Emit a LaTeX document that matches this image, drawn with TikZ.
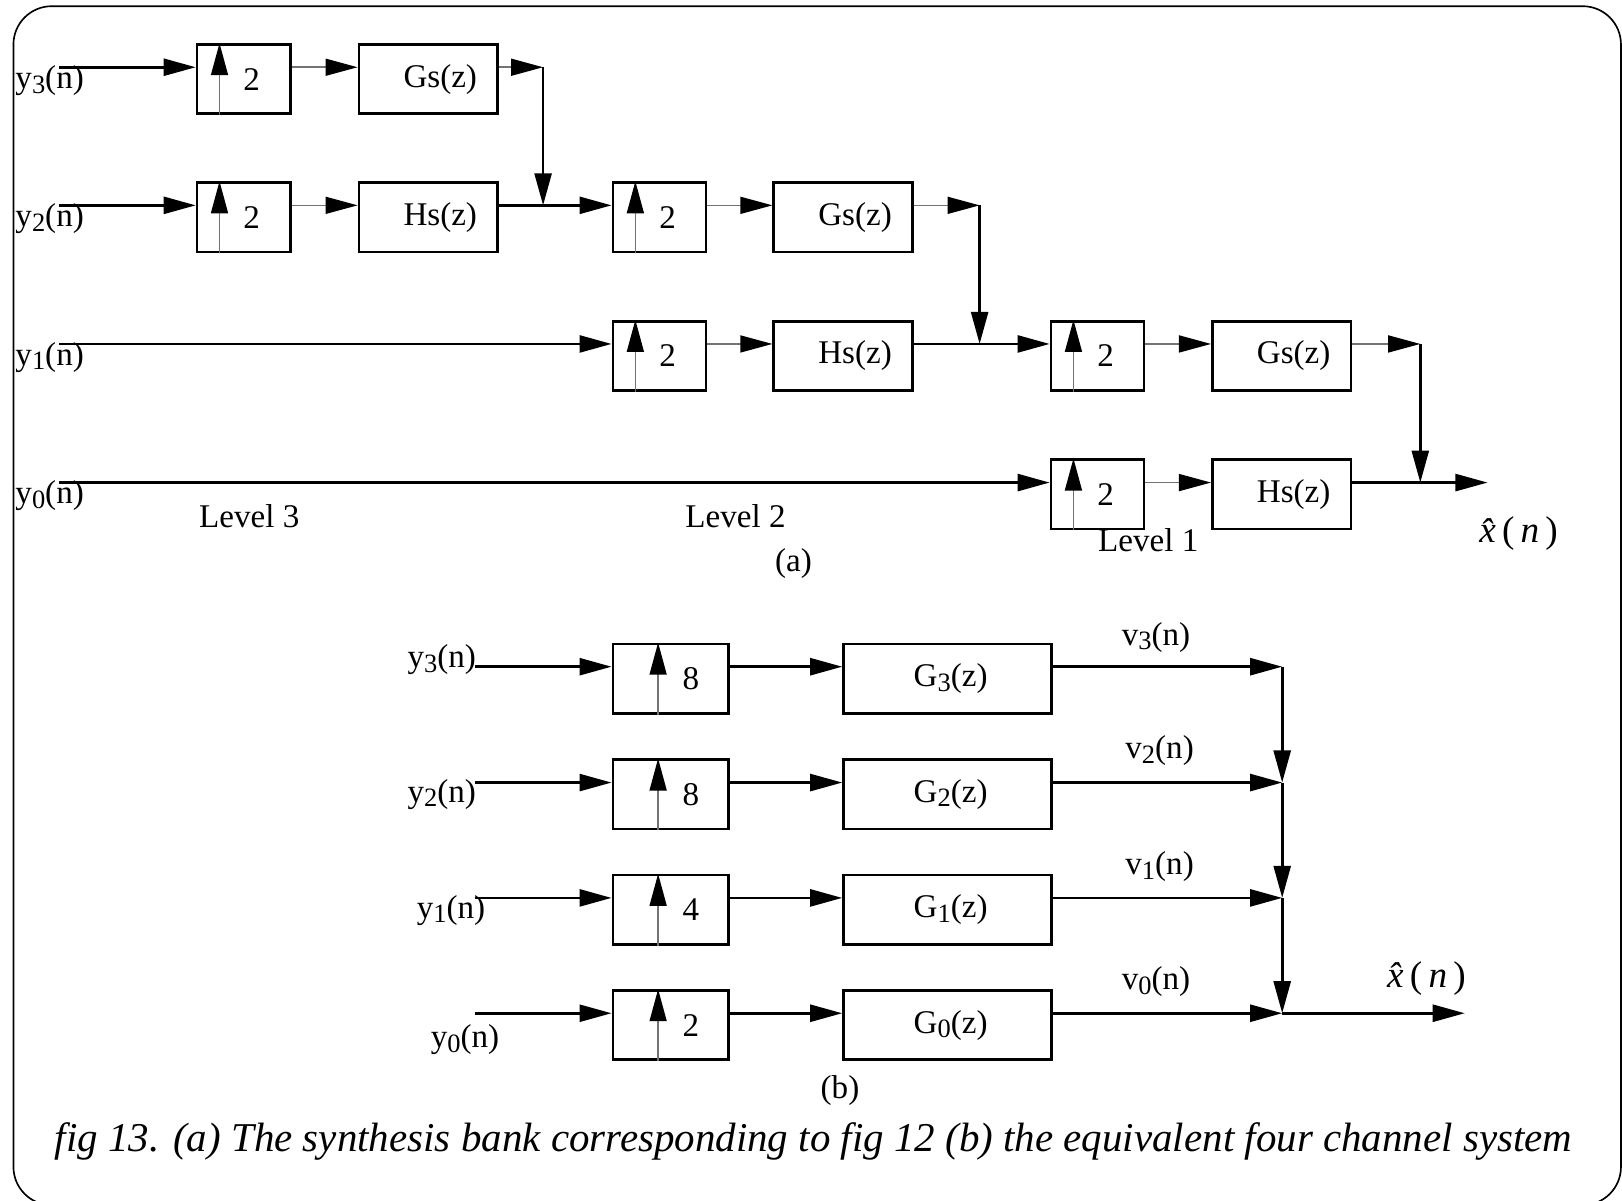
\documentclass[tikz,border=0pt]{standalone}
\usepackage{fontspec}
\setmainfont{Liberation Serif}
\usetikzlibrary{arrows.meta}
\newcommand{\lo}[1]{\raisebox{-.3ex}{\scalebox{.8}{#1}}}
\newcommand{\xhat}{{\itshape x̂}\,(\,{\itshape n}\,)}
\tikzset{
  box/.style={draw,line width=1.3pt,inner sep=0pt,minimum height=33.5pt},
  upa/.style={box,minimum width=45pt,execute at begin node={\hspace*{7.8pt}}},
  fla/.style={box,minimum width=67pt,execute at begin node={\hspace*{11.6pt}}},
  upb/.style={box,minimum width=56pt,execute at begin node={\hspace*{19.5pt}}},
  flb/.style={box,minimum width=100.5pt,execute at begin node={\hspace*{3pt}}},
  sig/.style={-{Triangle[length=15.5pt,width=8.2pt]},line width=1.3pt},
  gsig/.style={-{Triangle[length=15.5pt,width=8.2pt,black]},draw=black!55,line width=.8pt},
  lbl/.style={inner sep=0pt},
}

\begin{document}
\begin{tikzpicture}[x=0.5pt,y=-0.5pt,font=\fontsize{16}{19}\selectfont]
  \useasboundingbox (0,0) rectangle (1568,1161);
  \draw[line width=.8pt,rounded corners=18.5pt] (13,6) rectangle (1567,1165);
  % (a) level 3
  \node[upa] (u3a) at (235.5, 76.5) {2};
  \node[fla] (f3a) at (414, 76.5) {Gs(z)};
  \node[upa] (u3b) at (235.5,210) {2};
  \node[fla] (f3b) at (414,210) {Hs(z)};
  % (a) level 2
  \node[upa] (u2a) at (637.5,210) {2};
  \node[fla] (f2a) at (815,210) {Gs(z)};
  \node[upa] (u2b) at (637.5,344) {2};
  \node[fla] (f2b) at (815,344) {Hs(z)};
  % (a) level 1
  \node[upa] (u1a) at (1061,344) {2};
  \node[fla] (f1a) at (1239,344) {Gs(z)};
  \node[upa] (u1b) at (1061,478) {2};
  \node[fla] (f1b) at (1239,478) {Hs(z)};
  % (a) inputs and labels
  \node[lbl] (ya3) at (48,78) {y\lo{3}(n)};
  \node[lbl] (ya2) at (48,211.5) {y\lo{2}(n)};
  \node[lbl] (ya1) at (48,345.5) {y\lo{1}(n)};
  \node[lbl] (ya0) at (48,479.5) {y\lo{0}(n)};
  \coordinate (ia3) at (57,65);
  \coordinate (ia2) at (57,198.5);
  \coordinate (ia1) at (57,332.5);
  \coordinate (ia0) at (57,466.5);
  \coordinate (c3) at (525,65);
  \coordinate (j2) at (525,198.5);
  \coordinate (c2) at (947,198.5);
  \coordinate (j1) at (947,332.5);
  \coordinate (c1) at (1373,332.5);
  \coordinate (j0) at (1373,466.5);
  \coordinate (xa) at (1438,466.5);
  \node[lbl] (lev3) at (241,499) {Level 3};
  \node[lbl] (lev2) at (711,499) {Level 2};
  \node[lbl] (lev1) at (1110,522) {Level 1};
  \node[lbl] (capa) at (767,545) {(a)};
  \node[lbl,font=\fontsize{18}{20}\selectfont] (outa) at (1468,516) {\xhat};
  \foreach \s/\t in {ia3/u3a,ia2/u3b,ia1/u2b,ia0/u1b}
    {\draw[sig] (\s) -- ([yshift=5.75pt]\t.west);}
  \foreach \s/\t in {u3a/f3a,u3b/f3b,u2a/f2a,u2b/f2b,u1a/f1a,u1b/f1b}
    {\draw[gsig] ([yshift=5.75pt]\s.east) -- ([yshift=5.75pt]\t.west);}
  \foreach \s/\t in {f3a/c3,f2a/c2,f1a/c1}
    {\draw[gsig] ([yshift=5.75pt]\s.east) -- (\t);}
  \foreach \s/\t in {c3/j2,c2/j1,c1/j0}
    {\draw[sig] (\s) -- (\t);}
  \draw[sig] ([yshift=5.75pt]f3b.east) -- ([yshift=5.75pt]u2a.west);
  \draw[sig] ([yshift=5.75pt]f2b.east) -- ([yshift=5.75pt]u1a.west);
  \draw[sig] ([yshift=5.75pt]f1b.east) -- (xa);
  \foreach \u in {u3a,u3b,u2a,u2b,u1a,u1b}
    {\draw[gsig] ([xshift=11.5pt]\u.south west) -- ([xshift=11.5pt]\u.north west);}
  % (b) four channel system
  \node[upb] (p3) at (648.5,656) {8};
  \node[flb] (g3) at (916,656) {G\lo{3}(z)};
  \node[upb] (p2) at (648.5,768) {8};
  \node[flb] (g2) at (916,768) {G\lo{2}(z)};
  \node[upb] (p1) at (648.5,879.5) {4};
  \node[flb] (g1) at (916,879.5) {G\lo{1}(z)};
  \node[upb] (p0) at (648.5,991) {2};
  \node[flb] (g0) at (916,991) {G\lo{0}(z)};
  \node[lbl] (yb3) at (427,638) {y\lo{3}(n)};
  \node[lbl] (yb2) at (427,768) {y\lo{2}(n)};
  \node[lbl] (yb1) at (436,880) {y\lo{1}(n)};
  \node[lbl] (yb0) at (449.5,1005) {y\lo{0}(n)};
  \coordinate (ib3) at (459,644.5);
  \coordinate (ib2) at (459,756.5);
  \coordinate (ib1) at (459,868);
  \coordinate (ib0) at (459,979.5);
  \coordinate (s3) at (1239.5,644.5);
  \coordinate (s2) at (1239.5,756.5);
  \coordinate (s1) at (1239.5,868);
  \coordinate (s0) at (1239.5,979.5);
  \coordinate (xb) at (1416,979.5);
  \node[lbl] (v3) at (1117.5,616) {v\lo{3}(n)};
  \node[lbl] (v2) at (1121,726) {v\lo{2}(n)};
  \node[lbl] (v1) at (1121,838) {v\lo{1}(n)};
  \node[lbl] (v0) at (1117.5,949) {v\lo{0}(n)};
  \node[lbl,font=\fontsize{18}{20}\selectfont] (outb) at (1379,946) {\xhat};
  \node[lbl] (capb) at (812,1054) {(b)};
  \foreach \k in {3,2,1,0}{
    \draw[sig] (ib\k) -- ([yshift=5.75pt]p\k.west);
    \draw[sig] ([yshift=5.75pt]p\k.east) -- ([yshift=5.75pt]g\k.west);
    \draw[sig] ([yshift=5.75pt]g\k.east) -- (s\k);
    \draw[gsig] ([xshift=22.5pt]p\k.south west) -- ([xshift=22.5pt]p\k.north west);}
  \foreach \s/\t in {s3/s2,s2/s1,s1/s0}
    {\draw[sig] (\s) -- (\t);}
  \draw[sig] (s0) -- (xb);
  \node[lbl,font=\fontsize{19.8}{22}\selectfont\itshape] (cap) at (786.5,1103)
    {fig 13. (a) The synthesis bank corresponding to fig 12 (b) the equivalent four channel system};
\end{tikzpicture}
\end{document}
